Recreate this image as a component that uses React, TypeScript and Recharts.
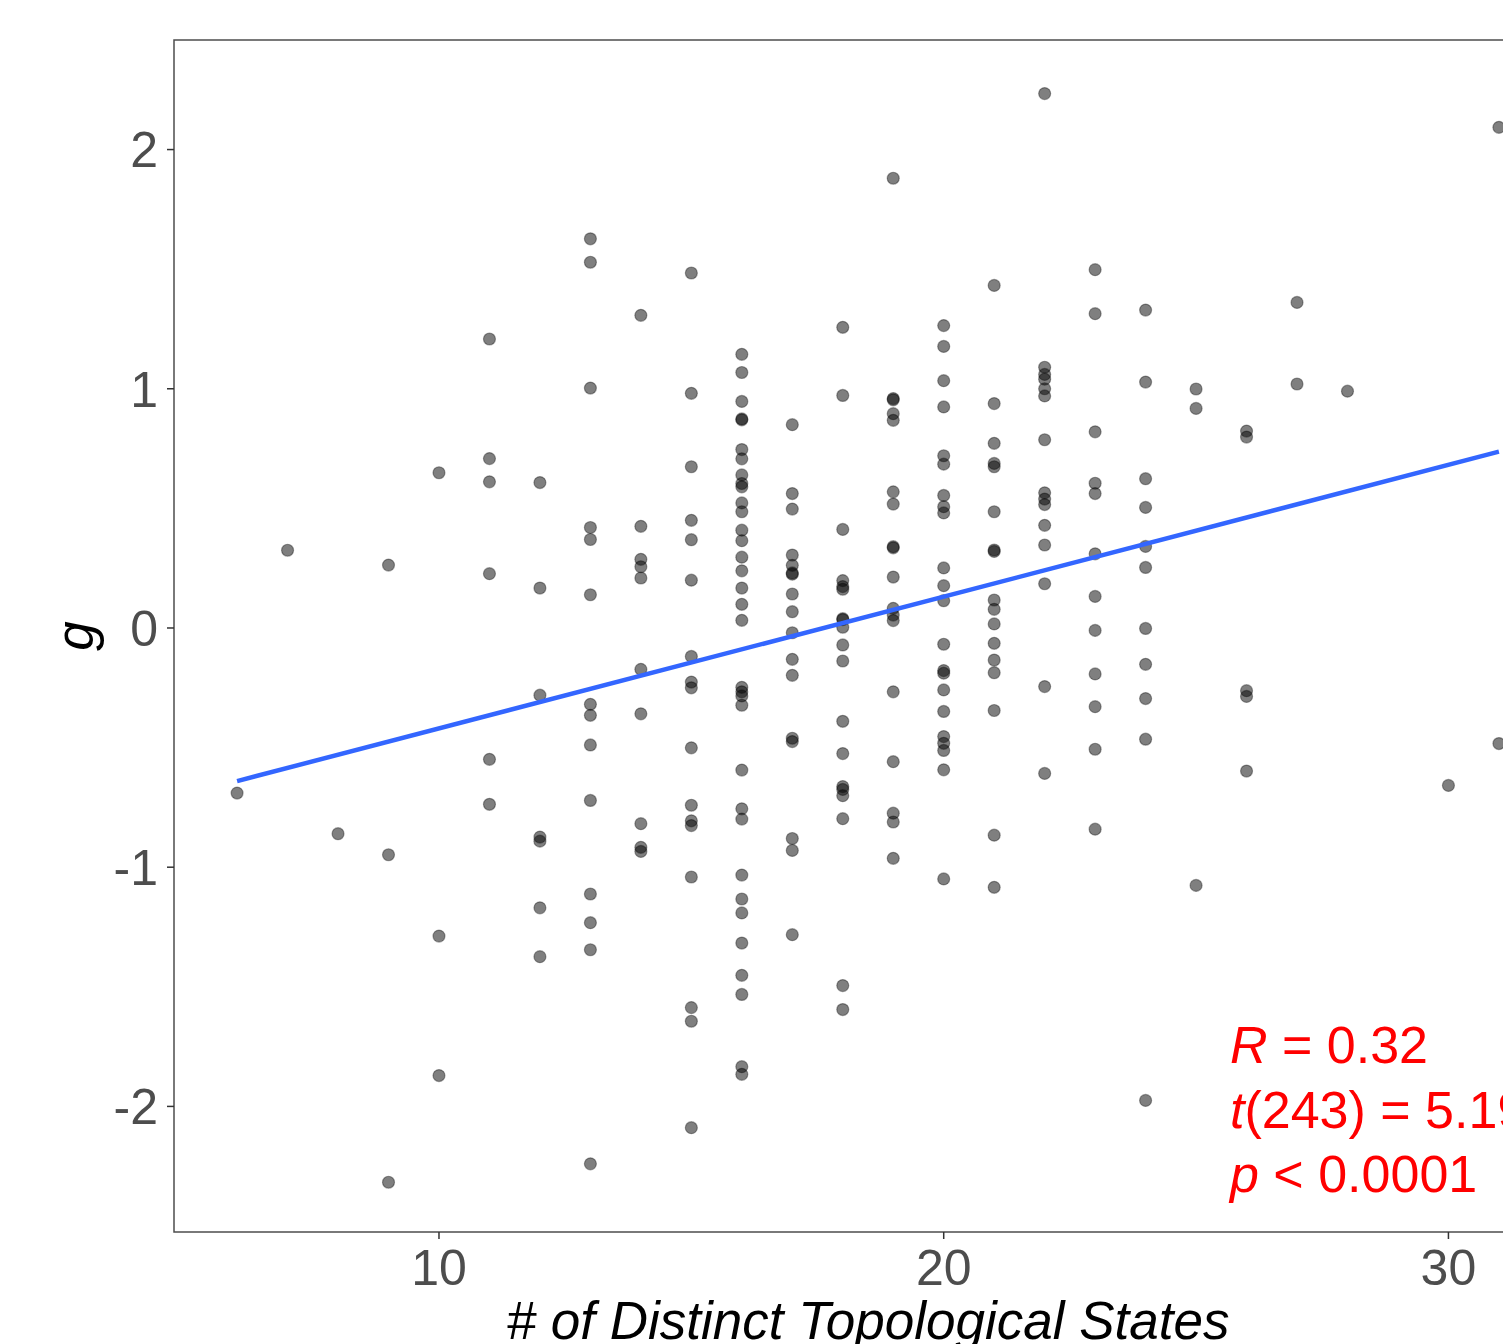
import { ScatterChart, Scatter, XAxis, YAxis, ReferenceArea } from 'recharts';

// number of distinct topological states (x) and the g scores seen at each value
const states = [6, 7, 8, 9, 10, 11, 12, 13, 14, 15, 16, 17, 18, 19, 20, 21, 22, 23, 24, 25, 26, 27, 28, 30, 31];

const gByState: number[][] = [
  [-0.69],
  [0.325],
  [-0.86],
  [0.263, -0.948, -2.317],
  [0.649, -1.288, -1.871],
  [1.208, 0.708, 0.611, 0.227, -0.549, -0.737],
  [0.608, 0.167, -0.281, -0.874, -0.891, -1.17, -1.374],
  [1.627, 1.529, 1.003, 0.42, 0.37, 0.139, -0.319, -0.365, -0.489, -0.721, -1.112, -1.232, -1.345, -2.24],
  [1.307, 0.425, 0.287, 0.256, 0.209, -0.173, -0.359, -0.818, -0.917, -0.934],
  [1.484, 0.981, 0.674, 0.45, 0.369, 0.2, -0.119, -0.226, -0.25, -0.501, -0.741, -0.806, -0.826, -1.041, -1.587, -1.644, -2.089],
  [
    1.144, 1.068, 0.947, 0.874, 0.87, 0.746, 0.707, 0.64, 0.604, 0.59, 0.523, 0.486, 0.409, 0.365, 0.296, 0.239, 0.167,
    0.099, 0.032, -0.248, -0.267, -0.284, -0.323, -0.594, -0.756, -0.799, -1.033, -1.133, -1.191, -1.317, -1.452, -1.532,
    -1.834, -1.866,
  ],
  [0.85, 0.562, 0.497, 0.305, 0.262, 0.23, 0.225, 0.142, 0.068, -0.02, -0.131, -0.198, -0.461, -0.475, -0.88, -0.93, -1.282],
  [
    1.257, 0.972, 0.412, 0.198, 0.173, 0.162, 0.039, 0.035, 0.003, -0.071, -0.138, -0.39, -0.525, -0.663, -0.675, -0.701,
    -0.797, -1.495, -1.595,
  ],
  [1.88, 0.959, 0.954, 0.896, 0.868, 0.569, 0.518, 0.34, 0.335, 0.213, 0.082, 0.054, 0.031, -0.267, -0.559, -0.774, -0.811, -0.963],
  [
    1.264, 1.177, 1.034, 0.924, 0.72, 0.685, 0.554, 0.507, 0.481, 0.251, 0.177, 0.114, -0.068, -0.178, -0.189, -0.259,
    -0.349, -0.454, -0.482, -0.512, -0.593, -1.049,
  ],
  [1.432, 0.938, 0.772, 0.688, 0.674, 0.486, 0.326, 0.32, 0.117, 0.078, 0.017, -0.064, -0.134, -0.187, -0.345, -0.866, -1.084],
  [2.234, 1.09, 1.06, 1.04, 1.0, 0.97, 0.787, 0.565, 0.539, 0.516, 0.429, 0.347, 0.185, -0.245, -0.608],
  [1.498, 1.314, 0.82, 0.605, 0.562, 0.31, 0.132, -0.01, -0.192, -0.329, -0.507, -0.841],
  [1.329, 1.028, 0.624, 0.504, 0.341, 0.253, -0.002, -0.152, -0.295, -0.465, -1.975],
  [0.999, 0.918, -1.076],
  [0.823, 0.798, -0.262, -0.286, -0.598],
  [1.361, 1.02],
  [0.99],
  [-0.658],
  [2.093, -0.483],
];

// linear fit (ends of the blue line)
const fitLine = [
  { x: 6, y: -0.64 },
  { x: 31, y: 0.737 },
];

const xTicks = [10, 20, 30];
const yTicks = [-2, -1, 0, 1, 2];

const statLines = [
  { sym: 'R', rest: ' = 0.32' },
  { sym: 't', rest: '(243) = 5.19' },
  { sym: 'p', rest: ' < 0.0001' },
];

const points = states.flatMap((s, i) => gByState[i].map((g) => ({ x: s, y: g })));

const FONT = '"Liberation Sans", Arial, Helvetica, sans-serif';
const X_DOMAIN: [number, number] = [4.75, 32.25];
const Y_DOMAIN: [number, number] = [-2.525, 2.458];

const Dot = (props: any) => {
  const { cx, cy } = props;
  if (cx == null || cy == null) return <g />;
  return (
    <circle cx={cx} cy={cy} r={6} fill="#000" fillOpacity={0.5} stroke="#000" strokeOpacity={0.35} strokeWidth={1.2} />
  );
};

const XTitle = (props: any) => {
  const vb = props.viewBox || { x: 174, y: 1232, width: 1388, height: 112 };
  return (
    <text
      x={vb.x + vb.width / 2}
      y={vb.y + 107}
      textAnchor="middle"
      fontFamily={FONT}
      fontStyle="italic"
      fontSize={53}
      fill="#000"
    >
      # of Distinct Topological States
    </text>
  );
};

const YTitle = (props: any) => {
  const vb = props.viewBox || { x: 0, y: 40, width: 174, height: 1192 };
  const x = vb.x + 93;
  const y = vb.y + vb.height / 2;
  return (
    <text
      x={x}
      y={y}
      transform={`rotate(-90, ${x}, ${y})`}
      textAnchor="middle"
      fontFamily={FONT}
      fontStyle="italic"
      fontSize={53}
      fill="#000"
    >
      g
    </text>
  );
};

export default function App() {
  return (
    <div
      style={{
        position: 'absolute',
        left: 0,
        top: 0,
        width: 1503,
        height: 1344,
        overflow: 'hidden',
        background: '#fff',
      }}
    >
      <ScatterChart width={1562} height={1344} margin={{ top: 40, right: 0, bottom: 0, left: 0 }}>
        <ReferenceArea
          x1={X_DOMAIN[0]}
          x2={X_DOMAIN[1]}
          y1={Y_DOMAIN[0]}
          y2={Y_DOMAIN[1]}
          fill="none"
          stroke="#4d4d4d"
          strokeWidth={1.5}
          fillOpacity={0}
        />
        <XAxis
          type="number"
          dataKey="x"
          domain={X_DOMAIN}
          ticks={xTicks}
          allowDataOverflow
          height={112}
          axisLine={false}
          tickSize={7}
          tickMargin={10}
          tickLine={{ stroke: '#333', strokeWidth: 1.5 }}
          tick={{ fill: '#4d4d4d', fontSize: 50, fontFamily: FONT }}
          label={<XTitle />}
        />
        <YAxis
          type="number"
          dataKey="y"
          domain={Y_DOMAIN}
          ticks={yTicks}
          allowDataOverflow
          width={174}
          axisLine={false}
          tickSize={7}
          tickMargin={9}
          tickLine={{ stroke: '#333', strokeWidth: 1.5 }}
          tick={{ fill: '#4d4d4d', fontSize: 50, fontFamily: FONT }}
          label={<YTitle />}
        />
        <Scatter data={points} shape={<Dot />} isAnimationActive={false} />
        <Scatter
          data={fitLine}
          line={{ stroke: '#3366FF', strokeWidth: 4.5 }}
          lineType="joint"
          shape={() => <g />}
          isAnimationActive={false}
        />
      </ScatterChart>
      <svg
        width={1503}
        height={1344}
        style={{ position: 'absolute', left: 0, top: 0, pointerEvents: 'none' }}
      >
        {statLines.map((s, i) => (
          <text key={s.sym} x={1230} y={1063 + i * 64.5} fontFamily={FONT} fontSize={52} fill="#ff0000">
            <tspan fontStyle="italic">{s.sym}</tspan>
            <tspan>{s.rest}</tspan>
          </text>
        ))}
      </svg>
    </div>
  );
}
